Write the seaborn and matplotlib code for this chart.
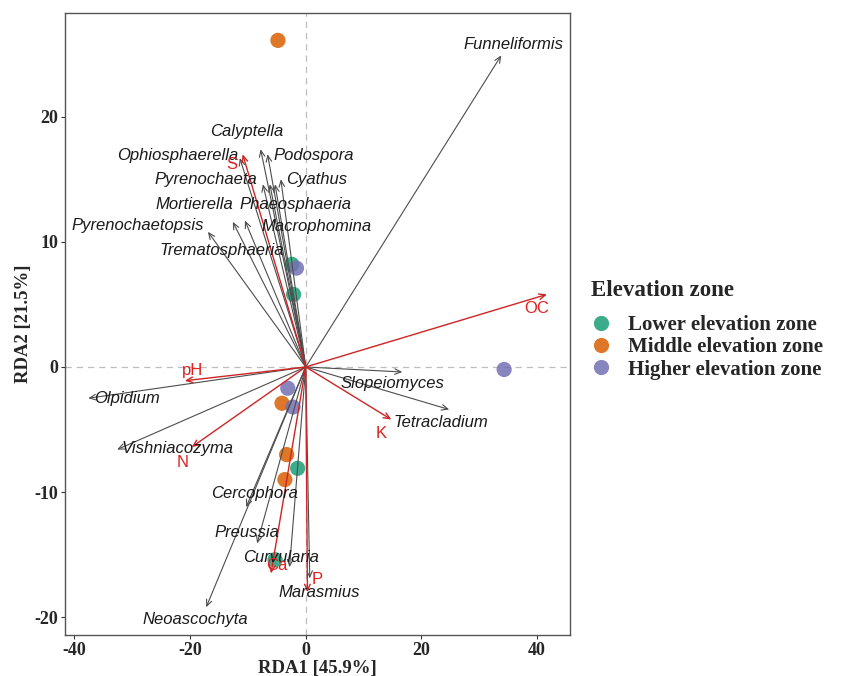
import matplotlib.pyplot as plt
import seaborn as sns
import pandas as pd
from matplotlib.font_manager import FontProperties

# sample scores (RDA1, RDA2) and their elevation zone
zones = ['Lower elevation zone', 'Middle elevation zone', 'Higher elevation zone']
sample_zone = ['Middle elevation zone'] * 4 + ['Lower elevation zone'] * 4 + ['Higher elevation zone'] * 4
sample_x = [-4.8, -4.1, -3.3, -3.6, -2.4, -2.1, -1.4, -5.3, -1.6, 34.3, -3.1, -2.2]
sample_y = [26.1, -2.9, -7.0, -9.0, 8.2, 5.8, -8.1, -15.4, 7.9, -0.2, -1.7, -3.2]

# genus arrows (tip) and label positions
genus = ['Funneliformis', 'Calyptella', 'Ophiosphaerella', 'Podospora', 'Pyrenochaeta',
         'Phaeosphaeria', 'Macrophomina', 'Cyathus', 'Pyrenochaetopsis', 'Mortierella',
         'Trematosphaeria', 'Slopeiomyces', 'Tetracladium', 'Olpidium', 'Vishniacozyma',
         'Cercophora', 'Preussia', 'Curvularia', 'Marasmius', 'Neoascochyta']
genus_x = [33.8, -7.8, -11.4, -6.6, -7.4, -6.2, -5.3, -4.3, -16.9, -10.5,
           -12.6, 16.7, 24.8, -37.6, -32.6, -10.3, -8.4, -2.8, 0.7, -17.2]
genus_y = [24.9, 17.4, 16.7, 17.0, 14.6, 14.6, 14.6, 15.0, 10.8, 11.7,
           11.6, -0.4, -3.4, -2.5, -6.6, -11.2, -14.1, -16.0, -16.9, -19.2]
genus_lab_x = [35.9, -10.2, -22.2, 1.4, -17.3, -1.7, 1.9, 1.9, -29.1, -19.3,
               -14.5, 15.0, 23.4, -30.9, -22.1, -8.8, -10.2, -4.3, 2.4, -19.1]
genus_lab_y = [25.8, 18.8, 16.9, 16.9, 15.0, 13.0, 11.2, 15.0, 11.3, 13.0,
               9.3, -1.3, -4.4, -2.5, -6.5, -10.1, -13.2, -15.2, -18.0, -20.2]

# soil properties
env = ['OC', 'pH', 'K', 'N', 'Ca', 'P', 'S']
env_x = [41.7, -20.9, 14.8, -19.7, -6.0, 0.3, -10.9]
env_y = [5.8, -1.1, -4.2, -6.4, -16.5, -18.0, 17.0]
env_lab_x = [40.0, -19.5, 13.1, -21.3, -5.0, 1.9, -12.8]
env_lab_y = [4.7, -0.3, -5.3, -7.6, -15.9, -17.0, 16.2]

palette = {'Lower elevation zone': '#1B9E77',
           'Middle elevation zone': '#D95F02',
           'Higher elevation zone': '#7570B3'}

sns.set_style('white')
plt.rcParams['axes.unicode_minus'] = False
serif_bold = FontProperties(family='Liberation Serif', weight='bold', size=13)

fig, ax = plt.subplots(figsize=(8.56, 6.76), dpi=100)
fig.subplots_adjust(left=0.076, right=0.666, bottom=0.061, top=0.981)

ax.axhline(0, color='#bdbdbd', ls=(0, (5, 4)), lw=0.9, zorder=0)
ax.axvline(0, color='#bdbdbd', ls=(0, (5, 4)), lw=0.9, zorder=0)

df = pd.DataFrame({'RDA1': sample_x, 'RDA2': sample_y, 'zone': sample_zone})
sns.scatterplot(data=df, x='RDA1', y='RDA2', hue='zone', hue_order=zones, palette=palette,
                s=120, alpha=0.85, edgecolor='none', ax=ax, zorder=2)

for name, x, y, lx, ly in zip(genus, genus_x, genus_y, genus_lab_x, genus_lab_y):
    ax.annotate('', xy=(x, y), xytext=(0, 0),
                arrowprops=dict(arrowstyle='->,head_length=0.45,head_width=0.2',
                                color='#4d4d4d', lw=0.8, shrinkA=0, shrinkB=0), zorder=3)
    ax.text(lx, ly, name, family='Liberation Sans', style='italic', fontsize=12,
            ha='center', va='center', color='#1a1a1a', zorder=5)

for name, x, y, lx, ly in zip(env, env_x, env_y, env_lab_x, env_lab_y):
    ax.annotate('', xy=(x, y), xytext=(0, 0),
                arrowprops=dict(arrowstyle='->,head_length=0.45,head_width=0.2',
                                color='#d02424', lw=1.0, shrinkA=0, shrinkB=0), zorder=4)
    ax.text(lx, ly, name, family='Liberation Sans', fontsize=12,
            ha='center', va='center', color='#e02020', zorder=5)

ax.set_xlim(-41.6, 45.7)
ax.set_ylim(-21.4, 28.3)
ax.set_xticks([-40, -20, 0, 20, 40])
ax.set_yticks([-20, -10, 0, 10, 20])
ax.set_xlabel('RDA1 [45.9%]', fontproperties=FontProperties(family='Liberation Serif', weight='bold', size=13.5), labelpad=1)
ax.set_ylabel('RDA2 [21.5%]', fontproperties=FontProperties(family='Liberation Serif', weight='bold', size=13.5), labelpad=2)
for lab in ax.get_xticklabels() + ax.get_yticklabels():
    lab.set_fontproperties(serif_bold)
ax.tick_params(axis='both', length=3, width=0.8, color='#333333', pad=2, direction='out',
               bottom=True, left=True)
for sp in ax.spines.values():
    sp.set_color('#555555')
    sp.set_linewidth(1.0)

handles, labels = ax.get_legend_handles_labels()
leg = ax.legend(handles, labels, title='Elevation zone', loc='center left',
                bbox_to_anchor=(1.024, 0.49), frameon=False, alignment='left',
                prop=FontProperties(family='Liberation Serif', weight='bold', size=15),
                title_fontproperties=FontProperties(family='Liberation Serif', weight='bold', size=16.5),
                handletextpad=0.8, labelspacing=0.1, borderaxespad=0, handlelength=1.0)
leg._legend_box.sep = 10  # extra gap under the title

fig.savefig('out.png', dpi=100)
